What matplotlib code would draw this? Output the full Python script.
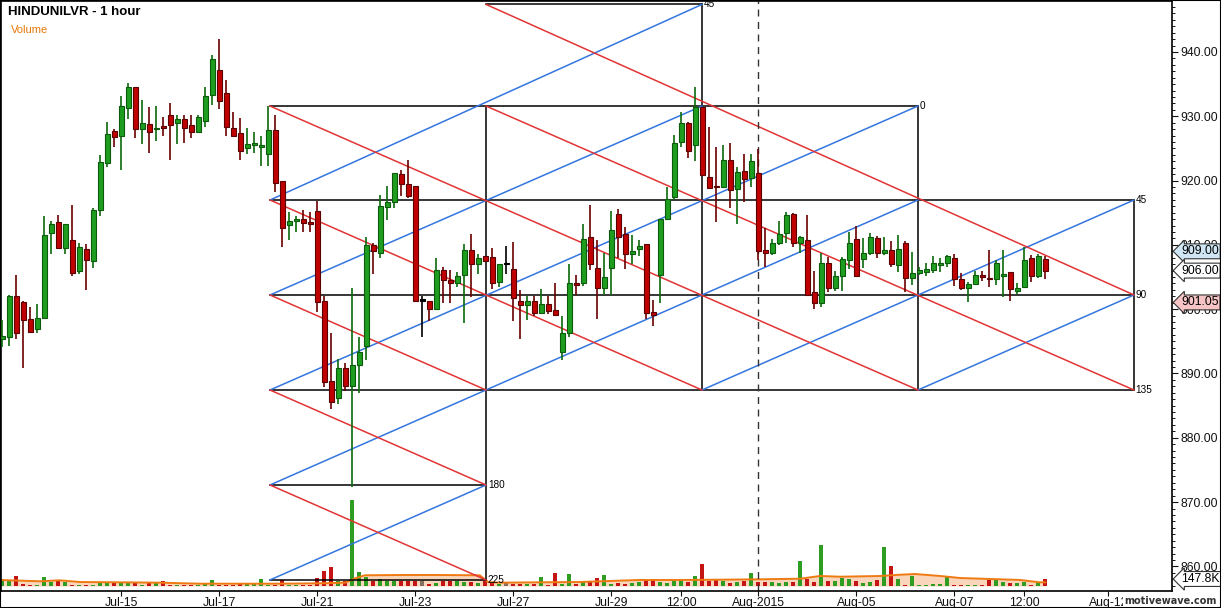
import matplotlib
matplotlib.use("Agg")
import matplotlib.pyplot as plt
import matplotlib.transforms as mtrans
from matplotlib.ticker import MultipleLocator, FuncFormatter
import numpy as np

plt.rcParams['font.family'] = ['Liberation Sans', 'DejaVu Sans']

# hourly candles
opens = [895.4, 895.6, 902.1, 901.1, 898.4, 896.9, 898.6, 911.8, 913.6, 909.5,
         910.7, 906.0, 909.3, 907.45, 915.5, 922.7, 927.7, 927.0, 931.25, 934.5,
         928.0, 928.75, 928.0, 928.5, 930.15, 929.0, 929.55, 928.6, 927.5, 929.2,
         933.25, 937.15, 933.6, 928.2, 927.35, 925.0, 925.6, 925.3, 924.1, 927.9,
         919.9, 913.05, 913.7, 914.1, 913.6, 915.3, 901.3, 888.8, 886.15, 890.8,
         888.1, 891.25, 894.2, 910.0, 908.7, 915.85, 916.6, 921.0, 919.5, 919.15,
         901.3, 901.3, 900.0, 906.1, 904.6, 904.1, 905.3, 909.2, 907.1, 908.2,
         908.05, 904.2, 907.0, 906.25, 901.2, 900.6, 901.2, 899.4, 900.75, 899.9,
         893.4, 896.25, 904.0, 904.0, 911.2, 906.45, 903.25, 906.35, 914.75, 911.65,
         908.55, 909.3, 910.1, 899.5, 905.3, 914.0, 917.5, 926.05, 928.9, 925.5,
         931.5, 920.5, 919.15, 918.95, 923.2, 918.65, 921.5, 920.35, 921.15, 909.2,
         908.7, 910.25, 911.9, 914.75, 910.25, 910.8, 902.7, 901.0, 907.25, 903.25,
         905.2, 907.65, 910.85, 907.85, 908.7, 911.0, 908.7, 909.2, 906.8, 910.25,
         904.8, 905.6, 905.75, 906.1, 906.85, 907.15, 907.9, 904.65, 903.25, 903.9,
         905.3, 904.85, 904.65, 905.2, 905.75, 902.9, 903.4, 907.9, 905.2, 907.8]
highs = [898.3, 902.2, 905.3, 901.2, 900.3, 900.8, 914.5, 913.7, 914.6, 913.25,
         916.2, 910.25, 910.1, 915.7, 924.0, 929.1, 928.1, 933.15, 935.2, 934.5,
         932.5, 931.4, 931.6, 929.85, 932.1, 930.2, 930.2, 930.2, 930.2, 934.5,
         939.5, 942.0, 935.6, 930.7, 929.7, 928.2, 927.6, 926.9, 931.6, 930.2,
         919.9, 915.1, 914.5, 915.5, 915.1, 916.8, 902.1, 896.3, 892.2, 891.6,
         903.35, 895.7, 911.2, 910.25, 917.8, 919.15, 921.15, 921.65, 923.2, 919.15,
         902.1, 901.3, 908.0, 906.5, 906.1, 905.8, 910.1, 911.7, 908.6, 908.2,
         909.5, 907.1, 909.8, 910.4, 903.0, 902.1, 902.1, 903.1, 902.1, 904.1,
         898.95, 907.0, 905.3, 913.25, 916.2, 910.8, 908.7, 915.3, 915.6, 912.8,
         911.5, 910.8, 910.1, 901.4, 914.0, 918.95, 927.1, 930.6, 929.15, 934.6,
         931.5, 928.3, 925.2, 925.5, 925.8, 922.1, 924.1, 924.1, 924.9, 912.6,
         910.9, 913.7, 915.15, 914.9, 911.4, 914.65, 906.0, 908.8, 908.15, 906.0,
         908.15, 912.05, 913.0, 911.0, 911.8, 911.4, 911.2, 910.6, 911.5, 910.6,
         908.95, 906.5, 907.15, 908.3, 907.9, 908.4, 908.6, 905.7, 904.2, 906.0,
         905.95, 909.2, 907.65, 909.2, 905.75, 904.1, 909.7, 908.4, 908.6, 908.3]
lows = [894.1, 894.2, 895.3, 890.8, 896.4, 896.3, 898.6, 908.6, 909.5, 908.6,
        905.2, 905.4, 903.0, 906.35, 914.45, 922.1, 925.2, 921.65, 929.6, 926.6,
        925.75, 924.25, 926.2, 926.9, 923.25, 925.7, 925.8, 926.7, 927.5, 928.4,
        931.8, 931.2, 927.0, 927.0, 923.25, 924.1, 924.3, 922.3, 922.3, 918.3,
        909.7, 910.7, 912.05, 912.05, 912.05, 899.6, 887.95, 884.5, 885.3, 887.3,
        872.4, 887.0, 892.1, 905.5, 908.0, 913.9, 915.7, 917.65, 917.25, 901.1,
        895.6, 898.2, 900.0, 901.0, 901.0, 903.4, 897.8, 901.85, 905.5, 907.45,
        903.1, 903.4, 905.5, 898.2, 895.3, 898.3, 898.95, 899.2, 899.2, 899.15,
        892.1, 895.6, 902.2, 903.65, 906.1, 898.5, 902.2, 902.2, 907.9, 906.2,
        907.0, 908.3, 898.4, 897.4, 900.9, 914.0, 917.0, 925.3, 923.55, 923.1,
        920.9, 918.8, 913.6, 918.95, 915.7, 913.25, 916.7, 919.05, 907.65, 906.6,
        908.4, 910.0, 910.25, 909.6, 908.7, 902.2, 900.1, 900.4, 902.7, 902.9,
        902.9, 906.2, 905.2, 906.35, 908.4, 907.9, 908.4, 906.5, 905.8, 902.7,
        903.75, 905.3, 905.15, 905.7, 905.85, 906.5, 903.6, 903.0, 901.1, 903.75,
        904.45, 903.5, 903.75, 901.85, 901.2, 902.4, 903.25, 904.3, 904.8, 904.65]
closes = [895.8, 902.1, 896.3, 898.3, 896.4, 898.7, 911.5, 913.25, 909.5, 913.25,
          905.7, 909.6, 907.6, 915.5, 922.85, 927.25, 926.8, 931.55, 934.5, 928.1,
          928.9, 927.5, 928.2, 928.2, 928.6, 929.55, 928.2, 927.5, 929.85, 933.1,
          938.85, 932.3, 928.4, 927.0, 924.65, 925.65, 925.8, 925.5, 927.9, 919.6,
          912.6, 913.7, 914.1, 913.45, 913.2, 901.1, 888.7, 885.6, 890.8, 888.1,
          891.3, 893.4, 910.0, 909.1, 916.05, 916.7, 921.15, 919.4, 917.65, 901.3,
          901.3, 900.1, 906.1, 904.5, 904.1, 905.2, 909.2, 907.1, 907.95, 907.45,
          904.0, 907.1, 907.0, 901.7, 900.6, 901.2, 899.4, 900.75, 899.7, 899.15,
          896.25, 904.0, 903.7, 910.85, 907.0, 903.35, 905.0, 912.3, 911.2, 908.55,
          909.1, 909.8, 899.4, 899.15, 914.0, 917.1, 925.8, 928.9, 924.65, 931.5,
          920.9, 918.8, 918.95, 923.2, 918.55, 921.35, 920.2, 923.05, 909.1, 908.7,
          910.25, 911.7, 914.6, 910.25, 911.2, 902.2, 901.0, 907.25, 903.25, 905.2,
          907.8, 910.25, 905.2, 908.7, 911.2, 908.7, 909.2, 907.0, 909.3, 904.8,
          905.6, 906.1, 906.25, 907.15, 907.15, 908.3, 904.65, 903.25, 903.9, 905.3,
          905.05, 904.65, 907.15, 905.45, 903.1, 903.25, 907.65, 905.2, 908.3, 906.0]
# volume in thousands
volume = [140, 105, 210, 35, 21, 21, 190, 84, 112, 84,
          21, 21, 21, 28, 56, 84, 84, 63, 63, 63,
          21, 63, 63, 98, 21, 21, 21, 21, 28, 49,
          126, 28, 28, 28, 49, 49, 49, 147, 28, 28,
          126, 28, 21, 28, 28, 168, 315, 400, 98, 98,
          1815, 295, 197, 98, 147, 98, 98, 98, 98, 98,
          98, 49, 63, 98, 98, 98, 77, 77, 63, 98,
          63, 49, 63, 49, 49, 49, 35, 197, 21, 275,
          49, 260, 49, 77, 77, 168, 232, 49, 63, 49,
          63, 84, 140, 140, 77, 63, 112, 112, 84, 210,
          465, 98, 126, 98, 63, 84, 98, 275, 84, 84,
          84, 63, 84, 84, 528, 147, 84, 866, 112, 112,
          162, 147, 98, 63, 84, 126, 830, 422, 147, 21,
          210, 21, 21, 42, 42, 190, 21, 21, 21, 21,
          21, 126, 126, 84, 63, 63, 84, 21, 63, 147.8]
# volume moving average (bar position, value)
vol_ma_x = [-0.3, 5.4, 8.2, 11.1, 16.8, 22.5, 28.2, 34, 39.7, 45.4, 49, 50.4, 51.8,
            56.8, 62.5, 68.2, 69.4, 71.1, 76.8, 82.5, 85.4, 91.1, 96.8, 102.5,
            108.2, 114, 116.8, 119.7, 125.4, 128.3, 130.4, 134, 136.8, 142.5,
            145.4, 148.2, 149]
vol_ma = [127, 99, 120, 84, 78, 70, 49, 49, 49, 57, 70, 162, 226,
          232, 232, 226, 84, 70, 78, 84, 99, 127, 127, 133,
          141, 154, 211, 196, 211, 238, 253, 211, 169, 141,
          127, 78, 78]

tick_pos = [17, 31, 45, 59, 73, 87, 97, 108, 122, 136, 146, 158]
tick_lbl = ['Jul-15', 'Jul-17', 'Jul-21', 'Jul-23', 'Jul-27', 'Jul-29', '12:00',
            'Aug-2015', 'Aug-05', 'Aug-07', '12:00', 'Aug-12']

# gann box grid
gann_cols = [38.24, 69.1, 99.96, 130.81, 161.67]
gann_rows = {-1: 947.4, 0: 931.6, 1: 916.98, 2: 902.21, 3: 887.43, 4: 872.66, 5: 857.89}
h_lines = [(-1, 1, 2), (0, 0, 3), (1, 0, 4), (2, 0, 4), (3, 0, 4), (4, 0, 1), (5, 0, 1)]
v_lines = [(1, 0, 5), (2, -1, 3), (3, 0, 3), (4, 1, 3)]
blue_lines = [((0, 1), (2, -1)), ((0, 2), (2, 0)), ((0, 3), (3, 0)), ((0, 4), (3, 1)),
              ((0, 5), (1, 4)), ((2, 3), (4, 1)), ((3, 3), (4, 2))]
red_lines = [((1, -1), (4, 2)), ((0, 0), (3, 3)), ((1, 0), (4, 3)), ((0, 1), (2, 3)),
             ((0, 2), (1, 3)), ((0, 3), (1, 4)), ((0, 4), (1, 5))]
gann_labels = [(2, -1, '45'), (3, 0, '0'), (4, 1, '45'), (4, 2, '90'), (4, 3, '135'),
               (1, 4, '180'), (1, 5, '225')]

W, H = 1221, 608
fig = plt.figure(figsize=(W / 100, H / 100), dpi=100)
rect = [1 / W, 17 / H, 1171 / W, 590 / H]
axv = fig.add_axes(rect)
ax = fig.add_axes(rect, sharex=axv)
ax.patch.set_visible(False)

x = np.arange(len(closes))
o = np.array(opens); c = np.array(closes)
up = c > o
dn = c < o
body_col = np.where(up, '#1e9e1e', np.where(dn, '#c00000', '#000000'))
edge_col = np.where(up, '#0c5a0c', np.where(dn, '#5a0000', '#000000'))
wick_col = np.where(up, '#0b6a0b', np.where(dn, '#6a0000', '#000000'))

# volume panel
axv.fill_between(vol_ma_x, 0, vol_ma, color='#f9d6bb', lw=0, zorder=0)
axv.bar(x, volume, width=0.55, color=np.where(up, '#2f9d22', np.where(dn, '#c41414', '#857060')), zorder=1)
axv.plot(vol_ma_x, vol_ma, color='#ef7a12', lw=1.4, zorder=2)
axv.set_ylim(-5 * 21.1, 585 * 21.1)
axv.axis('off')

# gann box
for r, c0, c1 in h_lines:
    ax.plot([gann_cols[c0], gann_cols[c1]], [gann_rows[r]] * 2, color='black', lw=1.1, zorder=1)
for cc, r0, r1 in v_lines:
    ax.plot([gann_cols[cc]] * 2, [gann_rows[r0], gann_rows[r1]], color='black', lw=1.1, zorder=1)
for (ca, ra), (cb, rb) in blue_lines:
    ax.plot([gann_cols[ca], gann_cols[cb]], [gann_rows[ra], gann_rows[rb]], color='#3475e0', lw=1.1, zorder=1)
for (ca, ra), (cb, rb) in red_lines:
    ax.plot([gann_cols[ca], gann_cols[cb]], [gann_rows[ra], gann_rows[rb]], color='#e23434', lw=1.1, zorder=1)
for cc, r, s in gann_labels:
    ax.text(gann_cols[cc] + 0.25, gann_rows[r], s, fontsize=7.2, va='center', ha='left', zorder=5)

ax.axvline(108, color='#333333', lw=1, ls=(0, (5, 4)), zorder=1)

# candles
ax.vlines(x, lows, highs, colors=wick_col, lw=1.2, zorder=3)
ax.bar(x, np.maximum(np.abs(c - o), 0.25), bottom=np.minimum(o, c), width=0.67,
       color=body_col, edgecolor=edge_col, lw=0.8, zorder=4)

ax.set_xlim(-0.19, 167.1)
ax.set_ylim(856.17, 947.93)

ax.yaxis.tick_right()
ax.yaxis.set_major_locator(MultipleLocator(10))
ax.yaxis.set_minor_locator(MultipleLocator(1))
ax.yaxis.set_major_formatter(FuncFormatter(lambda v, p: '%.2f' % v))
ax.tick_params(axis='y', which='major', length=4.5, width=0.8, pad=1.5, labelsize=8.7, colors='#111111')
ax.tick_params(axis='y', which='minor', length=2.2, width=0.7, colors='#111111')
ax.set_xticks(tick_pos)
ax.set_xticklabels(tick_lbl)
ax.tick_params(axis='x', which='major', length=3.5, width=0.8, pad=1, labelsize=8.8, colors='#111111')
for s in ax.spines.values():
    s.set_linewidth(1.2)
    s.set_color('black')

# price tags
tr = mtrans.blended_transform_factory(ax.transAxes, ax.transData)
for val, txt, fc in [(909.0, '909.00', '#cfe5f3'), (906.0, '906.00', 'white'), (901.05, '901.05', '#f6c4c4')]:
    ax.text(1.0077, val, txt, transform=tr, fontsize=8.7, va='center', ha='left', clip_on=False, zorder=10,
            bbox=dict(boxstyle='larrow,pad=0.12', fc=fc, ec='#333333', lw=0.8))
trv = mtrans.blended_transform_factory(ax.transAxes, axv.transData)
ax.text(1.0077, volume[-1], '147.8K', transform=trv, fontsize=8.7, va='center', ha='left', clip_on=False,
        zorder=10, bbox=dict(boxstyle='larrow,pad=0.12', fc='white', ec='#333333', lw=0.8))

fig.text(8 / W, 1 - 12 / H, 'HINDUNILVR - 1 hour', fontsize=9.5, fontweight='bold', va='center', ha='left')
fig.text(11 / W, 1 - 30 / H, 'Volume', fontsize=8, color='#e8780a', va='center', ha='left')
fig.text(1170 / W, 1 - 601 / H, 'motivewave.com', fontsize=7, fontweight='bold', color='#333333',
         family='DejaVu Sans', va='center', ha='center',
         bbox=dict(boxstyle='square,pad=0.1', fc='white', ec='none'))
fig.add_artist(plt.Rectangle((0, 0), 1, 1, transform=fig.transFigure, fill=False, ec='black', lw=1.5))

fig.savefig('out.png', dpi=100)
